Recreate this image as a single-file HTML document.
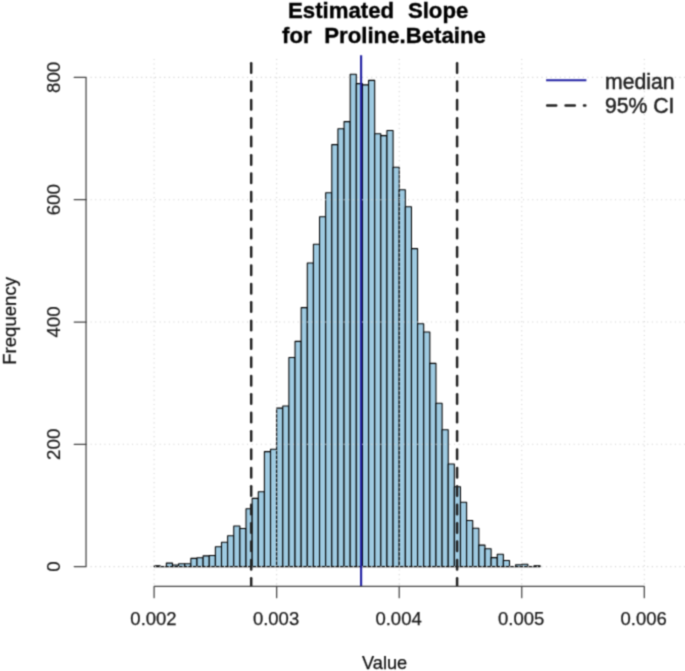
<!DOCTYPE html>
<html><head><meta charset="utf-8"><title>Estimated Slope for Proline.Betaine</title>
<style>html,body{margin:0;padding:0;background:#fff;overflow:hidden}svg{display:block}text{font-family:"Liberation Sans",Arial,Helvetica,sans-serif}</style></head><body>
<svg width="685" height="671" viewBox="0 0 685 671">
<defs><clipPath id="plot"><rect x="86.0" y="55.3" width="600.0" height="531.1"/></clipPath>
<filter id="soft" filterUnits="userSpaceOnUse" x="-10" y="-10" width="705" height="691" color-interpolation-filters="sRGB"><feConvolveMatrix order="3" kernelMatrix="0.0400 0.1200 0.0400 0.1200 0.3600 0.1200 0.0400 0.1200 0.0400" divisor="1" edgeMode="duplicate" preserveAlpha="true"/></filter>
</defs>
<rect width="685" height="671" fill="#fff"/>
<g filter="url(#soft)">
<rect x="-20" y="-20" width="725" height="711" fill="#fff"/>
<g fill="#9ecae1" stroke="#000" stroke-width="1.07" stroke-linejoin="round">
<rect x="154.10" y="565.70" width="6.128" height="0.90"/>
<rect x="160.23" y="566.60" width="6.128" height="0.01"/>
<rect x="166.35" y="563.10" width="6.128" height="3.50"/>
<rect x="172.48" y="565.00" width="6.128" height="1.60"/>
<rect x="178.61" y="563.80" width="6.128" height="2.80"/>
<rect x="184.74" y="563.80" width="6.128" height="2.80"/>
<rect x="190.87" y="558.40" width="6.128" height="8.20"/>
<rect x="196.99" y="557.70" width="6.128" height="8.90"/>
<rect x="203.12" y="555.90" width="6.128" height="10.70"/>
<rect x="209.25" y="555.50" width="6.128" height="11.10"/>
<rect x="215.38" y="546.70" width="6.128" height="19.90"/>
<rect x="221.50" y="542.30" width="6.128" height="24.30"/>
<rect x="227.63" y="535.80" width="6.128" height="30.80"/>
<rect x="233.76" y="526.00" width="6.128" height="40.60"/>
<rect x="239.88" y="528.50" width="6.128" height="38.10"/>
<rect x="246.01" y="508.70" width="6.128" height="57.90"/>
<rect x="252.14" y="498.40" width="6.128" height="68.20"/>
<rect x="258.27" y="491.80" width="6.128" height="74.80"/>
<rect x="264.39" y="451.60" width="6.128" height="115.00"/>
<rect x="270.52" y="449.20" width="6.128" height="117.40"/>
<rect x="276.65" y="408.10" width="6.128" height="158.50"/>
<rect x="282.78" y="406.00" width="6.128" height="160.60"/>
<rect x="288.90" y="357.50" width="6.128" height="209.10"/>
<rect x="295.03" y="341.40" width="6.128" height="225.20"/>
<rect x="301.16" y="307.60" width="6.128" height="259.00"/>
<rect x="307.29" y="263.00" width="6.128" height="303.60"/>
<rect x="313.41" y="244.20" width="6.128" height="322.40"/>
<rect x="319.54" y="216.70" width="6.128" height="349.90"/>
<rect x="325.67" y="192.70" width="6.128" height="373.90"/>
<rect x="331.80" y="144.60" width="6.128" height="422.00"/>
<rect x="337.93" y="128.70" width="6.128" height="437.90"/>
<rect x="344.05" y="121.60" width="6.128" height="445.00"/>
<rect x="350.18" y="74.20" width="6.128" height="492.40"/>
<rect x="356.31" y="83.60" width="6.128" height="483.00"/>
<rect x="362.44" y="84.90" width="6.128" height="481.70"/>
<rect x="368.56" y="80.40" width="6.128" height="486.20"/>
<rect x="374.69" y="133.70" width="6.128" height="432.90"/>
<rect x="380.82" y="135.60" width="6.128" height="431.00"/>
<rect x="386.95" y="130.50" width="6.128" height="436.10"/>
<rect x="393.07" y="167.30" width="6.128" height="399.30"/>
<rect x="399.20" y="189.80" width="6.128" height="376.80"/>
<rect x="405.33" y="206.80" width="6.128" height="359.80"/>
<rect x="411.46" y="248.60" width="6.128" height="318.00"/>
<rect x="417.58" y="323.70" width="6.128" height="242.90"/>
<rect x="423.71" y="332.00" width="6.128" height="234.60"/>
<rect x="429.84" y="363.40" width="6.128" height="203.20"/>
<rect x="435.97" y="403.20" width="6.128" height="163.40"/>
<rect x="442.09" y="429.80" width="6.128" height="136.80"/>
<rect x="448.22" y="464.00" width="6.128" height="102.60"/>
<rect x="454.35" y="486.70" width="6.128" height="79.90"/>
<rect x="460.48" y="502.20" width="6.128" height="64.40"/>
<rect x="466.60" y="520.50" width="6.128" height="46.10"/>
<rect x="472.73" y="528.30" width="6.128" height="38.30"/>
<rect x="478.86" y="545.10" width="6.128" height="21.50"/>
<rect x="484.99" y="548.80" width="6.128" height="17.80"/>
<rect x="491.11" y="557.60" width="6.128" height="9.00"/>
<rect x="497.24" y="554.20" width="6.128" height="12.40"/>
<rect x="503.37" y="560.50" width="6.128" height="6.10"/>
<rect x="509.50" y="566.60" width="6.128" height="0.01"/>
<rect x="515.62" y="564.80" width="6.128" height="1.80"/>
<rect x="521.75" y="564.20" width="6.128" height="2.40"/>
<rect x="527.88" y="566.60" width="6.128" height="0.01"/>
<rect x="534.00" y="565.70" width="6.128" height="0.90"/>
</g>
<g stroke="#d3d3d3" stroke-width="1.07" stroke-dasharray="1.1 3.5" fill="none">
<line x1="154.1" y1="586.4" x2="154.1" y2="56.5" stroke-dashoffset="2.6"/>
<line x1="276.65" y1="586.4" x2="276.65" y2="56.5" stroke-dashoffset="2.6"/>
<line x1="399.2" y1="586.4" x2="399.2" y2="56.5" stroke-dashoffset="2.6"/>
<line x1="521.75" y1="586.4" x2="521.75" y2="56.5" stroke-dashoffset="2.6"/>
<line x1="644.3" y1="586.4" x2="644.3" y2="56.5" stroke-dashoffset="2.6"/>
<line x1="86.0" y1="566.6" x2="686" y2="566.6"/>
<line x1="86.0" y1="444.3" x2="686" y2="444.3"/>
<line x1="86.0" y1="322.0" x2="686" y2="322.0"/>
<line x1="86.0" y1="199.7" x2="686" y2="199.7"/>
<line x1="86.0" y1="77.4" x2="686" y2="77.4"/>
</g>
<line x1="361.1" y1="55.3" x2="361.1" y2="586.4" stroke="#2222a4" stroke-width="2.14"/>
<g stroke="#222" stroke-width="2.5" stroke-linecap="round" clip-path="url(#plot)">
<line x1="251.2" y1="63.17" x2="251.2" y2="72.63"/>
<line x1="251.2" y1="81.57" x2="251.2" y2="91.03"/>
<line x1="251.2" y1="99.97" x2="251.2" y2="109.43"/>
<line x1="251.2" y1="118.37" x2="251.2" y2="127.83"/>
<line x1="251.2" y1="136.77" x2="251.2" y2="146.23"/>
<line x1="251.2" y1="155.17" x2="251.2" y2="164.63"/>
<line x1="251.2" y1="173.57" x2="251.2" y2="183.03"/>
<line x1="251.2" y1="191.97" x2="251.2" y2="201.43"/>
<line x1="251.2" y1="210.37" x2="251.2" y2="219.83"/>
<line x1="251.2" y1="228.77" x2="251.2" y2="238.23"/>
<line x1="251.2" y1="247.17" x2="251.2" y2="256.63"/>
<line x1="251.2" y1="265.57" x2="251.2" y2="275.03"/>
<line x1="251.2" y1="283.97" x2="251.2" y2="293.43"/>
<line x1="251.2" y1="302.37" x2="251.2" y2="311.83"/>
<line x1="251.2" y1="320.77" x2="251.2" y2="330.23"/>
<line x1="251.2" y1="339.17" x2="251.2" y2="348.63"/>
<line x1="251.2" y1="357.57" x2="251.2" y2="367.03"/>
<line x1="251.2" y1="375.97" x2="251.2" y2="385.43"/>
<line x1="251.2" y1="394.37" x2="251.2" y2="403.83"/>
<line x1="251.2" y1="412.77" x2="251.2" y2="422.23"/>
<line x1="251.2" y1="431.17" x2="251.2" y2="440.63"/>
<line x1="251.2" y1="449.57" x2="251.2" y2="459.03"/>
<line x1="251.2" y1="467.97" x2="251.2" y2="477.43"/>
<line x1="251.2" y1="486.37" x2="251.2" y2="495.83"/>
<line x1="251.2" y1="504.77" x2="251.2" y2="514.23"/>
<line x1="251.2" y1="523.17" x2="251.2" y2="532.63"/>
<line x1="251.2" y1="541.57" x2="251.2" y2="551.03"/>
<line x1="251.2" y1="559.97" x2="251.2" y2="569.43"/>
<line x1="251.2" y1="578.37" x2="251.2" y2="587.83"/>
<line x1="457.1" y1="63.17" x2="457.1" y2="72.63"/>
<line x1="457.1" y1="81.57" x2="457.1" y2="91.03"/>
<line x1="457.1" y1="99.97" x2="457.1" y2="109.43"/>
<line x1="457.1" y1="118.37" x2="457.1" y2="127.83"/>
<line x1="457.1" y1="136.77" x2="457.1" y2="146.23"/>
<line x1="457.1" y1="155.17" x2="457.1" y2="164.63"/>
<line x1="457.1" y1="173.57" x2="457.1" y2="183.03"/>
<line x1="457.1" y1="191.97" x2="457.1" y2="201.43"/>
<line x1="457.1" y1="210.37" x2="457.1" y2="219.83"/>
<line x1="457.1" y1="228.77" x2="457.1" y2="238.23"/>
<line x1="457.1" y1="247.17" x2="457.1" y2="256.63"/>
<line x1="457.1" y1="265.57" x2="457.1" y2="275.03"/>
<line x1="457.1" y1="283.97" x2="457.1" y2="293.43"/>
<line x1="457.1" y1="302.37" x2="457.1" y2="311.83"/>
<line x1="457.1" y1="320.77" x2="457.1" y2="330.23"/>
<line x1="457.1" y1="339.17" x2="457.1" y2="348.63"/>
<line x1="457.1" y1="357.57" x2="457.1" y2="367.03"/>
<line x1="457.1" y1="375.97" x2="457.1" y2="385.43"/>
<line x1="457.1" y1="394.37" x2="457.1" y2="403.83"/>
<line x1="457.1" y1="412.77" x2="457.1" y2="422.23"/>
<line x1="457.1" y1="431.17" x2="457.1" y2="440.63"/>
<line x1="457.1" y1="449.57" x2="457.1" y2="459.03"/>
<line x1="457.1" y1="467.97" x2="457.1" y2="477.43"/>
<line x1="457.1" y1="486.37" x2="457.1" y2="495.83"/>
<line x1="457.1" y1="504.77" x2="457.1" y2="514.23"/>
<line x1="457.1" y1="523.17" x2="457.1" y2="532.63"/>
<line x1="457.1" y1="541.57" x2="457.1" y2="551.03"/>
<line x1="457.1" y1="559.97" x2="457.1" y2="569.43"/>
<line x1="457.1" y1="578.37" x2="457.1" y2="587.83"/>
</g>
<g stroke="#464646" stroke-width="1.25" fill="none" stroke-linecap="round" stroke-linejoin="round">
<path d="M154.1 597.7V586.4H644.3V597.7"/>
<line x1="276.65" y1="586.4" x2="276.65" y2="597.7"/>
<line x1="399.2" y1="586.4" x2="399.2" y2="597.7"/>
<line x1="521.75" y1="586.4" x2="521.75" y2="597.7"/>
<path d="M74.2 566.6H86.05V77.4H74.2"/>
<line x1="74.2" y1="444.3" x2="86.05" y2="444.3"/>
<line x1="74.2" y1="322.0" x2="86.05" y2="322.0"/>
<line x1="74.2" y1="199.7" x2="86.05" y2="199.7"/>
</g>
<g fill="#1a1a1a" stroke="#1a1a1a" stroke-width="0.25" font-size="18.5" text-anchor="middle">
<text x="153.50" y="624.9">0.002</text>
<text x="276.05" y="624.9">0.003</text>
<text x="398.60" y="624.9">0.004</text>
<text x="521.15" y="624.9">0.005</text>
<text x="643.70" y="624.9">0.006</text>
</g>
<g fill="#1a1a1a" stroke="#1a1a1a" stroke-width="0.2" font-size="18.7" text-anchor="middle">
<text transform="translate(60.0 566.6) rotate(-90)">0</text>
<text transform="translate(60.0 444.3) rotate(-90)">200</text>
<text transform="translate(60.0 322.0) rotate(-90)">400</text>
<text transform="translate(60.0 199.7) rotate(-90)">600</text>
<text transform="translate(60.0 77.4) rotate(-90)">800</text>
</g>
<g fill="#111" stroke="#111" stroke-width="0.25" text-anchor="middle">
<text x="384.6" y="668.7" font-size="18.2">Value</text>
<text transform="translate(16.0 320.9) rotate(-90)" font-size="18.6">Frequency</text>
</g>
<g fill="#000" stroke="#000" stroke-width="0.35" font-size="22.2" font-weight="bold">
<text x="288.0" y="17.9">Estimated</text><text x="407.9" y="17.9">Slope</text>
<text x="282.0" y="43.3">for</text><text x="324.3" y="43.3">Proline.Betaine</text>
</g>
<line x1="546.1" y1="80.3" x2="586.4" y2="80.3" stroke="#2222a4" stroke-width="2.14"/>
<g stroke="#222" stroke-width="2.5" stroke-linecap="round"><line x1="547.2" y1="105.5" x2="556.2" y2="105.5"/><line x1="565.6" y1="105.5" x2="574.8" y2="105.5"/><line x1="584.0" y1="105.5" x2="585.3" y2="105.5"/></g>
<g fill="#222" stroke="#222" stroke-width="0.45" font-size="21.2">
<text x="605.0" y="88.5">median</text>
<text x="605.0" y="113.4">95% CI</text>
</g>
</g>
</svg></body></html>
